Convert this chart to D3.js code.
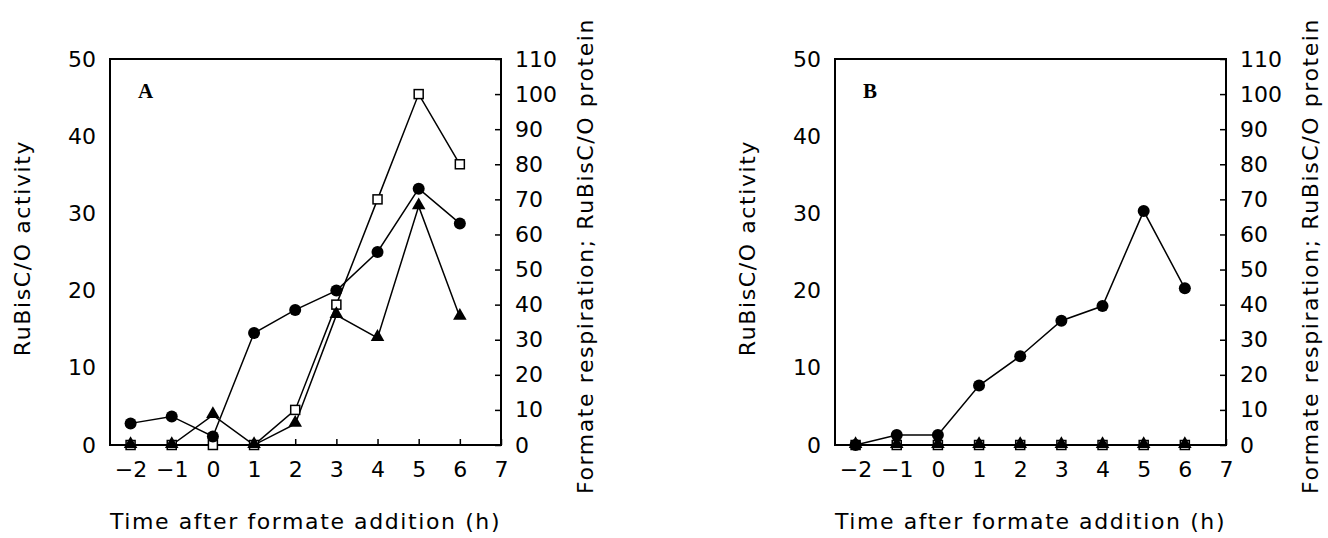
<!DOCTYPE html>
<html>
<head>
<meta charset="utf-8">
<script src="https://cdn.jsdelivr.net/npm/d3@7"></script>
<style>
  body { margin: 0; background: #fff; }
</style>
</head>
<body>
<svg id="chart" width="1328" height="538"></svg>
<script>
// Data
const hours = [-2, -1, 0, 1, 2, 3, 4, 5, 6];
const xTicks = [-2, -1, 0, 1, 2, 3, 4, 5, 6, 7];
const leftTicks = [0, 10, 20, 30, 40, 50];
const rightTicks = [0, 10, 20, 30, 40, 50, 60, 70, 80, 90, 100, 110];

// panel A
const activityA = [2.8, 3.7, 1.1, 14.5, 17.5, 20.0, 25.0, 33.2, 28.7];     // filled circles, left axis
const respirationA = [0, 0, 0, 0, 10, 40, 70, 100, 80];                     // open squares, right axis
const proteinA = [0, 0, 8.5, 0, 6, 37, 30.5, 68, 36.5];                     // filled triangles, right axis

// panel B
const activityB = [0, 1.3, 1.3, 7.7, 11.5, 16.1, 18.0, 30.3, 20.3];
const respirationB = [0, 0, 0, 0, 0, 0, 0, 0, 0];
const proteinB = [0, 0, 0, 0, 0, 0, 0, 0, 0];

const svg = d3.select('#chart');

const xTitle = 'Time after formate addition (h)';
const yTitle = 'RuBisC/O activity';
const y2Title = 'Formate respiration; RuBisC/O protein';

const fontFamily = '"DejaVu Sans", sans-serif';
const fontSize = 22;

drawPanel({ left: 110, label: 'A', activity: activityA, respiration: respirationA, protein: proteinA });
drawPanel({ left: 835, label: 'B', activity: activityB, respiration: respirationB, protein: proteinB });

function styleTicks(axis) {
    axis.select('.domain').remove();
    axis.selectAll('line').attr('stroke-width', 1.5);
    axis.selectAll('text')
        .attr('font-size', fontSize)
        .attr('font-family', fontFamily)
        .attr('fill', '#000');
}

function drawPanel(p) {
    const top = 59, height = 386, width = 391;
    const g = svg.append('g').attr('transform', `translate(${p.left},${top})`);

    const x = d3.scaleLinear().domain([-2.5, 7]).range([0, width]);
    const y = d3.scaleLinear().domain([0, 50]).range([height, 0]);
    const y2 = d3.scaleLinear().domain([0, 110]).range([height, 0]);

    // frame
    g.append('rect')
        .attr('width', width).attr('height', height)
        .attr('fill', 'none').attr('stroke', '#000').attr('stroke-width', 2);

    // bottom axis, ticks pointing in
    g.append('g')
        .attr('transform', `translate(0,${height})`)
        .call(d3.axisBottom(x).tickValues(xTicks).tickSizeInner(-6).tickSizeOuter(0).tickPadding(16)
            .tickFormat(d => d < 0 ? '\u2212' + Math.abs(d) : d))
        .call(styleTicks);

    // left axis, no tick marks
    g.append('g')
        .call(d3.axisLeft(y).tickValues(leftTicks).tickSize(0).tickPadding(14))
        .call(styleTicks);

    // right axis, ticks pointing in
    g.append('g')
        .attr('transform', `translate(${width},0)`)
        .call(d3.axisRight(y2).tickValues(rightTicks).tickSizeInner(-6).tickSizeOuter(0).tickPadding(14))
        .call(styleTicks);

    // titles
    const title = (sel) => sel
        .attr('text-anchor', 'middle')
        .attr('font-family', fontFamily)
        .attr('font-size', fontSize)
        .attr('letter-spacing', 1.6);

    g.append('text')
        .attr('x', width / 2).attr('y', height + 84)
        .call(title)
        .text(xTitle);
    g.append('text')
        .attr('transform', `translate(-80,${height / 2 - 4}) rotate(-90)`)
        .call(title)
        .text(yTitle);
    g.append('text')
        .attr('transform', `translate(${width + 92},${height / 2 + 4}) rotate(-90)`)
        .call(title)
        .text(y2Title);

    // panel letter
    g.append('text')
        .attr('x', 28).attr('y', 39)
        .attr('font-family', '"Liberation Serif", serif')
        .attr('font-weight', 'bold').attr('font-size', 21)
        .text(p.label);

    const line = (scale) => d3.line().x((d, i) => x(hours[i])).y(d => scale(d));

    // lines
    [[p.respiration, y2], [p.protein, y2], [p.activity, y]].forEach(([vals, sc]) => {
        g.append('path')
            .datum(vals)
            .attr('fill', 'none').attr('stroke', '#000').attr('stroke-width', 1.5)
            .attr('d', line(sc));
    });

    // open squares
    g.selectAll('.sq').data(p.respiration).enter().append('rect')
        .attr('class', 'sq')
        .attr('x', (d, i) => x(hours[i]) - 4.5).attr('y', d => y2(d) - 4.5)
        .attr('width', 9).attr('height', 9)
        .attr('fill', '#fff').attr('stroke', '#000').attr('stroke-width', 1.5);

    // filled triangles
    const tri = d3.symbol().type(d3.symbolTriangle).size(80);
    g.selectAll('.tri').data(p.protein).enter().append('path')
        .attr('class', 'tri')
        .attr('transform', (d, i) => `translate(${x(hours[i])},${y2(d) - 1})`)
        .attr('d', tri).attr('fill', '#000');

    // filled circles
    g.selectAll('.dot').data(p.activity).enter().append('circle')
        .attr('class', 'dot')
        .attr('cx', (d, i) => x(hours[i])).attr('cy', d => y(d))
        .attr('r', 6).attr('fill', '#000');
}
</script>
</body>
</html>
